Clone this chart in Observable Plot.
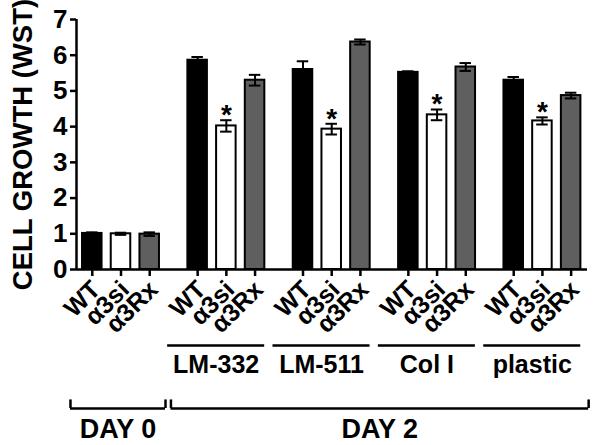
<!DOCTYPE html>
<html>
<head>
<meta charset="utf-8">
<script src="https://cdn.jsdelivr.net/npm/d3@7"></script>
<script src="https://cdn.jsdelivr.net/npm/@observablehq/plot@0.6"></script>
<style>
  html, body { margin: 0; padding: 0; background: #fff; }
  #chart svg { display: block; }
</style>
</head>
<body>
<div id="chart"></div>
<script>
// ---- data ----
const genotypes = ["WT", "α3si", "α3Rx"];
const substrates = ["", "LM-332", "LM-511", "Col I", "plastic"]; // first group = DAY 0
const days = ["DAY 0", "DAY 2", "DAY 2", "DAY 2", "DAY 2"];
const day0Values    = [1.01, 1.00, 0.99];
const day0Errors    = [0.03, 0.03, 0.05];
const lm332Values   = [5.86, 4.02, 5.30];
const lm332Errors   = [0.09, 0.16, 0.15];
const lm511Values   = [5.60, 3.93, 6.37];
const lm511Errors   = [0.23, 0.15, 0.07];
const col1Values    = [5.52, 4.33, 5.67];
const col1Errors    = [0.03, 0.15, 0.11];
const plasticValues = [5.30, 4.16, 4.87];
const plasticErrors = [0.09, 0.10, 0.08];
const significant   = [[0,0,0],[0,1,0],[0,1,0],[0,1,0],[0,1,0]];
const yTicks = [0, 1, 2, 3, 4, 5, 6, 7];
const yLabel = "CELL GROWTH (WST)";

// ---- layout constants ----
const groupStep = 3.67;     // group spacing, in bar slots
const barHalf = 0.34;
const capHalf = 0.2;
const colors = {"WT": "#000000", "α3si": "#ffffff", "α3Rx": "#5f5f5f"};
const font = "'Liberation Sans', Arial, Helvetica, sans-serif";

const valueSets = [day0Values, lm332Values, lm511Values, col1Values, plasticValues];
const errorSets = [day0Errors, lm332Errors, lm511Errors, col1Errors, plasticErrors];

const rows = substrates.flatMap((s, gi) => genotypes.map((g, i) => ({
  substrate: s, day: days[gi], genotype: g,
  value: valueSets[gi][i], err: errorSets[gi][i],
  sig: significant[gi][i] === 1,
  pos: gi * groupStep + i
})));

const groupRows = substrates.map((s, gi) => ({
  substrate: s, first: gi * groupStep, last: gi * groupStep + 2
})).filter(d => d.substrate !== "");

const dayRows = d3.groups(rows, d => d.day).map(([day, rs]) => ({
  day, first: d3.min(rs, d => d.pos), last: d3.max(rs, d => d.pos)
}));
dayRows.forEach(d => {
  d.x1 = d.first - (d.day === "DAY 0" ? 0.76 : 0.93);
  d.x2 = d.last + (d.day === "DAY 0" ? 0.55 : 0.61);
});
const bracketEnds = dayRows.flatMap(d => [d.x1, d.x2]);

const xDomain = [-0.55, 17.25];
const tickUnits = 0.24; // bracket end tick height in y units

const chart = Plot.plot({
  width: 600,
  height: 445,
  marginLeft: 76,
  marginRight: 13,
  marginTop: 19,
  marginBottom: 176,
  style: {fontFamily: font, fontWeight: "bold", background: "#fff", color: "#000", overflow: "visible"},
  x: {type: "linear", domain: xDomain, axis: null},
  y: {domain: [0, 7], axis: null},
  marks: [
    Plot.rectY(rows, {
      x1: d => d.pos - barHalf, x2: d => d.pos + barHalf, y1: 0, y2: "value",
      fill: d => colors[d.genotype], stroke: "#000", strokeWidth: 2
    }),
    Plot.ruleX(rows, {x: "pos", y1: d => d.value - d.err, y2: d => d.value + d.err, stroke: "#000", strokeWidth: 2}),
    Plot.ruleY(rows, {y: d => d.value + d.err, x1: d => d.pos - capHalf, x2: d => d.pos + capHalf, stroke: "#000", strokeWidth: 2}),
    Plot.ruleY(rows, {y: d => d.value - d.err, x1: d => d.pos - capHalf, x2: d => d.pos + capHalf, stroke: "#000", strokeWidth: 2}),
    Plot.text(rows.filter(d => d.sig), {
      x: "pos", y: d => d.value + d.err, text: () => "*",
      fontSize: 28, fontWeight: "bold", lineAnchor: "middle", dy: -5
    }),
    // axes
    Plot.axisY({ticks: yTicks, tickFormat: "d", tickSize: 6, tickPadding: 3, fontSize: 26, fontWeight: "bold", label: null, strokeWidth: 2.5}),
    Plot.axisX({ticks: rows.map(d => d.pos), tickFormat: () => "", tickSize: 7, label: null, strokeWidth: 2.5}),
    Plot.ruleX([xDomain[0]], {stroke: "#000", strokeWidth: 2.5}),
    Plot.ruleY([0], {stroke: "#000", strokeWidth: 2.5}),
    // rotated genotype labels
    Plot.text(rows, {
      x: "pos", frameAnchor: "bottom", text: "genotype", rotate: -45,
      textAnchor: "end", lineAnchor: "top", fontSize: 25, fontWeight: "bold", dx: -3, dy: 9
    }),
    // substrate underlines and labels
    Plot.ruleY(groupRows, {y: 0, x1: d => d.first - 1.045, x2: d => d.last + 0.335, dy: 76, stroke: "#000", strokeWidth: 2.5}),
    Plot.text(groupRows, {
      x: d => (d.first - 1.045 + d.last + 0.335) / 2, y: 0, text: "substrate",
      fontSize: 25, fontWeight: "bold", lineAnchor: "middle", dy: 95
    }),
    // day brackets
    Plot.ruleY(dayRows, {y: 0, x1: "x1", x2: "x2", dy: 139, stroke: "#000", strokeWidth: 2.5}),
    Plot.ruleX(bracketEnds, {x: d => d, y1: 0, y2: tickUnits, dy: 139, stroke: "#000", strokeWidth: 2.5}),
    Plot.text(dayRows, {
      x: d => (d.x1 + d.x2) / 2, y: 0, text: "day",
      fontSize: 27, fontWeight: "bold", lineAnchor: "middle", dy: 160
    }),
    // y label
    Plot.text([yLabel], {
      frameAnchor: "left", text: d => d, rotate: -90, dx: -53, dy: 0,
      fontSize: 27.5, fontWeight: "bold", lineAnchor: "middle", textAnchor: "middle"
    })
  ]
});
document.getElementById("chart").appendChild(chart);
</script>
</body>
</html>
